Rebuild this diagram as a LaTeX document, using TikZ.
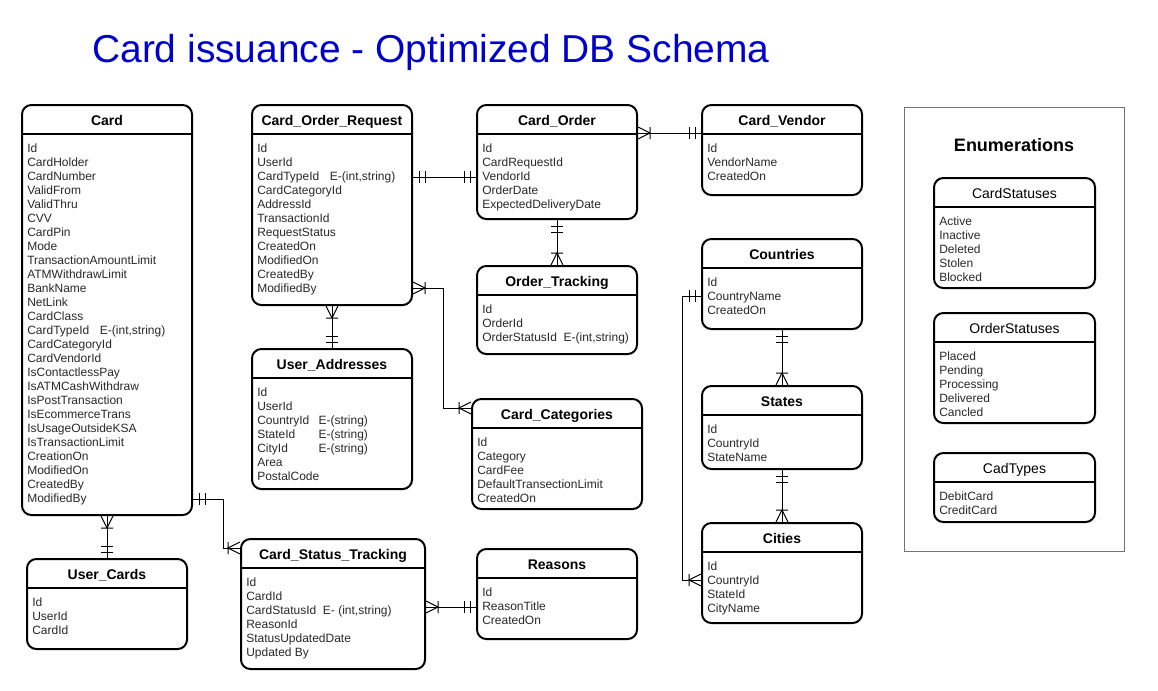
\documentclass[tikz,border=0pt]{standalone}
\usepackage{fontspec}
\setmainfont{Liberation Sans}
\usepackage{xcolor}
\usetikzlibrary{arrows.meta,positioning,calc}

\definecolor{titleblue}{RGB}{0,0,204}
\definecolor{fieldgray}{RGB}{40,40,40}

% ER ends: two bars (one and only one), crow's foot with bar (one or many)
\pgfdeclarearrow{
  name=ERone,
  setup code={\pgfarrowssettipend{0pt}\pgfarrowssetlineend{0pt}%
    \pgfarrowssetbackend{-9pt}\pgfarrowssetvisualbackend{-9pt}},
  drawing code={\pgfsetdash{}{0pt}\pgfsetbuttcap
    \pgfpathmoveto{\pgfqpoint{-4.5pt}{4.5pt}}\pgfpathlineto{\pgfqpoint{-4.5pt}{-4.5pt}}%
    \pgfpathmoveto{\pgfqpoint{-9pt}{4.5pt}}\pgfpathlineto{\pgfqpoint{-9pt}{-4.5pt}}%
    \pgfusepathqstroke}
}
\pgfdeclarearrow{
  name=ERmany,
  setup code={\pgfarrowssettipend{0pt}\pgfarrowssetlineend{0pt}%
    \pgfarrowssetbackend{-9pt}\pgfarrowssetvisualbackend{-9pt}},
  drawing code={\pgfsetdash{}{0pt}\pgfsetbuttcap\pgfsetmiterjoin
    \pgfpathmoveto{\pgfqpoint{0pt}{4.5pt}}\pgfpathlineto{\pgfqpoint{-9pt}{0pt}}%
    \pgfpathlineto{\pgfqpoint{0pt}{-4.5pt}}%
    \pgfpathmoveto{\pgfqpoint{-9pt}{4.5pt}}\pgfpathlineto{\pgfqpoint{-9pt}{-4.5pt}}%
    \pgfusepathqstroke}
}

% table: [title style]{name}{x}{y}{w}{h}{title}{fields}
\newcommand{\erentity}[8][etitle]{%
  \node[entity,minimum width=#5*0.75pt,minimum height=#6*0.75pt] (#2) at (#3,#4) {};
  \draw[headrule] ([yshift=-22.5pt]#2.north west) -- ([yshift=-22.5pt]#2.north east);
  \node[#1] (#2-title) at ([yshift=-15.8pt]#2.north) {#7};
  \node[fields] (#2-fields) at ([xshift=4.5pt,yshift=-28.8pt]#2.north west) {\strut#8};
}

\begin{document}
\begin{tikzpicture}[x=0.75pt,y=-0.75pt,
  entity/.style={draw,line width=1.5pt,rounded corners=7pt,anchor=north west,inner sep=0pt},
  headrule/.style={line width=1.5pt},
  etitle/.style={anchor=base,inner sep=0pt,font=\fontsize{10.5}{12}\selectfont\bfseries},
  enumtitle/.style={anchor=base,inner sep=0pt,font=\fontsize{10.5}{12}\selectfont},
  fields/.style={anchor=north west,align=left,inner sep=0pt,text=fieldgray,font=\fontsize{9}{10.5}\selectfont},
  rel/.style={line width=0.75pt}]
\useasboundingbox (0,0) rectangle (1158,690);

\node[anchor=base west,inner sep=0pt,text=titleblue,font=\fontsize{29.2}{34}\selectfont] (title) at (92,62) {Card issuance - Optimized DB Schema};

\erentity{card}{21}{104}{170}{410}{Card}{Id\\CardHolder\\CardNumber\\ValidFrom\\ValidThru\\CVV\\CardPin\\Mode\\TransactionAmountLimit\\ATMWithdrawLimit\\BankName\\NetLink\\CardClass\\CardTypeId\hspace{8pt}E-(int,string)\\CardCategoryId\\CardVendorId\\IsContactlessPay\\IsATMCashWithdraw\\IsPostTransaction\\IsEcommerceTrans\\IsUsageOutsideKSA\\IsTransactionLimit\\CreationOn\\ModifiedOn\\CreatedBy\\ModifiedBy}
\erentity{cor}{251}{104}{160}{200}{Card\_Order\_Request}{Id\\UserId\\CardTypeId\hspace{8pt}E-(int,string)\\CardCategoryId\\AddressId\\TransactionId\\RequestStatus\\CreatedOn\\ModifiedOn\\CreatedBy\\ModifiedBy}
\erentity{cord}{476}{104}{160}{114}{Card\_Order}{Id\\CardRequestId\\VendorId\\OrderDate\\ExpectedDeliveryDate}
\erentity{vendor}{701}{104}{160}{90}{Card\_Vendor}{Id\\VendorName\\CreatedOn}
\erentity{otrack}{476}{265}{160}{88}{Order\_Tracking}{Id\\OrderId\\OrderStatusId\hspace{5pt}E-(int,string)}
\erentity{uaddr}{251}{348}{160}{140}{User\_Addresses}{Id\\UserId\\\makebox[46pt][l]{CountryId}E-(string)\\\makebox[46pt][l]{StateId}E-(string)\\\makebox[46pt][l]{CityId}E-(string)\\Area\\PostalCode}
\erentity{ccat}{471}{398}{170}{110}{Card\_Categories}{Id\\Category\\CardFee\\DefaultTransectionLimit\\CreatedOn}
\erentity{country}{701}{238}{160}{90}{Countries}{Id\\CountryName\\CreatedOn}
\erentity{state}{701}{385}{160}{83}{States}{Id\\CountryId\\StateName}
\erentity{city}{701}{522}{160}{100}{Cities}{Id\\CountryId\\StateId\\CityName}
\erentity{ucards}{26}{558}{160}{90}{User\_Cards}{Id\\UserId\\CardId}
\erentity{cstrack}{240}{538}{184}{130}{Card\_Status\_Tracking}{Id\\CardId\\CardStatusId\hspace{5pt}E- (int,string)\\ReasonId\\StatusUpdatedDate\\Updated By}
\erentity{reasons}{476}{548}{160}{90}{Reasons}{Id\\ReasonTitle\\CreatedOn}

% enumerations
\node[draw=black!55,line width=0.75pt,anchor=north west,inner sep=0pt,minimum width=220*0.75pt,minimum height=444*0.75pt] (enumbox) at (904,107) {};
\node[anchor=base,inner sep=0pt,font=\fontsize{13.5}{15}\selectfont\bfseries] (enumlabel) at (1014,151) {Enumerations};
\erentity[enumtitle]{cstat}{933}{177}{161}{110}{CardStatuses}{Active\\Inactive\\Deleted\\Stolen\\Blocked}
\erentity[enumtitle]{ostat}{933}{312}{161}{110}{OrderStatuses}{Placed\\Pending\\Processing\\Delivered\\Cancled}
\erentity[enumtitle]{ctypes}{933}{452}{161}{69}{CadTypes}{DebitCard\\CreditCard}

% relations
\draw[rel,{ERone}-{ERone}] ($(cor.north east)+(0,73)$) -- ($(cord.north west)+(0,73)$);
\draw[rel,{ERmany}-{ERone}] ($(cord.north east)+(0,29)$) -- ($(vendor.north west)+(0,29)$);
\draw[rel,{ERone}-{ERmany}] (cord.south) -- (otrack.north);
\draw[rel,{ERmany}-{ERmany}] ($(cor.north east)+(0,184)$) -- ++(30,0) |- ($(ccat.north west)+(0,10)$);
\draw[rel,{ERmany}-{ERone}] (cor.south) -- (uaddr.north);
\draw[rel,{ERmany}-{ERone}] (card.south) -- (ucards.north);
\draw[rel,{ERone}-{ERmany}] ($(card.south east)+(0,-17)$) -- ++(30,0) |- ($(cstrack.north west)+(0,10)$);
\draw[rel,{ERmany}-{ERone}] ($(cstrack.north east)+(0,69)$) -- ($(reasons.north west)+(0,59)$);
\draw[rel,{ERone}-{ERmany}] (country.south) -- (state.north);
\draw[rel,{ERone}-{ERmany}] (state.south) -- (city.north);
\draw[rel,{ERone}-{ERmany}] ($(country.north west)+(0,58)$) -- ++(-19,0) |- ($(city.north west)+(0,58)$);
\end{tikzpicture}
\end{document}
